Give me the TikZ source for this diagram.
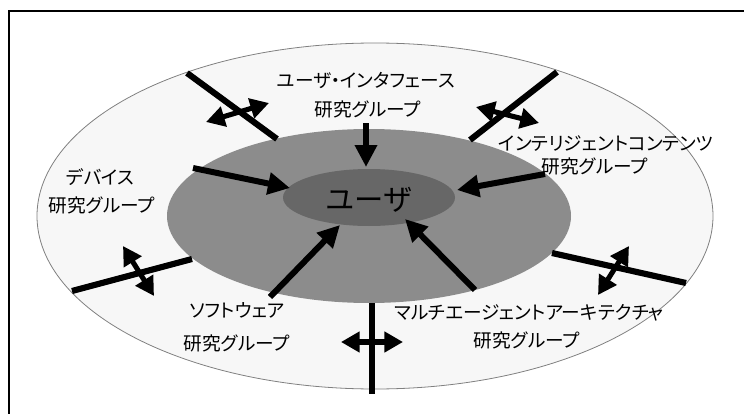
\documentclass[tikz,border=0pt]{standalone}
\usepackage{fontspec}
\setmainfont{Noto Sans CJK JP}[RawFeature=+palt]
\newfontfamily\bigjp{Noto Sans CJK JP}
\usetikzlibrary{arrows.meta}
\definecolor{outerfill}{HTML}{F7F7F7}
\definecolor{outerline}{HTML}{808080}
\definecolor{midfill}{HTML}{8C8C8C}
\definecolor{innerfill}{HTML}{676767}
\tikzset{
  inarrow/.style={line width=4.5pt, -{Triangle[length=16.5pt,width=16pt]}},
  twoway/.style={line width=3.8pt, {Triangle[length=14pt,width=15pt]}-{Triangle[length=14pt,width=15pt]}},
  boundary/.style={line width=4.6pt},
  lbl/.style={font=\fontsize{14pt}{16pt}\selectfont, inner sep=0pt},
}
\begin{document}
\begin{tikzpicture}[x=0.75pt,y=-0.75pt]
\useasboundingbox (0,0) rectangle (744,414);
% frame
\draw[line width=2pt] (9,414) -- (9,11) -- (744,11);
% ellipses
\draw[fill=outerfill, draw=outerline, line width=0.6pt] (375,216) ellipse [x radius=338, y radius=173];
\fill[midfill] (369,216) ellipse [x radius=202, y radius=87];
\fill[innerfill] (369,197.5) ellipse [x radius=86, y radius=28.5];
\node[font=\bigjp\fontsize{22pt}{24pt}\selectfont, inner sep=0pt] (user) at (369,200) {ユーザ};

% labels
\node[lbl] (ui1) at (366,80) {ユーザ・インタフェース};
\node[lbl] (ui2) at (368,109) {研究グループ};
\node[lbl] (ic1) at (606,144) {インテリジェントコンテンツ};
\node[lbl] (ic2) at (595,166) {研究グループ};
\node[lbl] (dv1) at (100,177) {デバイス};
\node[lbl] (dv2) at (102,205) {研究グループ};
\node[lbl] (sw1) at (237,310) {ソフトウェア};
\node[lbl] (sw2) at (237,343) {研究グループ};
\node[lbl] (ma1) at (529,313) {マルチエージェントアーキテクチャ};
\node[lbl] (ma2) at (527,340) {研究グループ};

% inward arrow endpoints
\coordinate (t1) at (366,123); \coordinate (h1) at (366,167);
\coordinate (t2) at (193,168); \coordinate (h2) at (290,188);
\coordinate (t3) at (545,174); \coordinate (h3) at (457,190);
\coordinate (t4) at (270,297); \coordinate (h4) at (340,225);
\coordinate (t5) at (475,290); \coordinate (h5) at (405,219);
\draw[inarrow] (t1) -- (h1);
\draw[inarrow] (t2) -- (h2);
\draw[inarrow] (t3) -- (h3);
\draw[inarrow] (t4) -- (h4);
\draw[inarrow] (t5) -- (h5);

% boundary lines
\coordinate (bA1) at (187,73);  \coordinate (bA2) at (277,139);
\coordinate (bB1) at (557,72);  \coordinate (bB2) at (470,140);
\coordinate (bC1) at (72,291);  \coordinate (bC2) at (192,259);
\coordinate (bD1) at (552,253); \coordinate (bD2) at (686,283);
\coordinate (bE1) at (372,303); \coordinate (bE2) at (372,394);
\draw[boundary] (bA1) -- (bA2);
\draw[boundary] (bB1) -- (bB2);
\draw[boundary] (bC1) -- (bC2);
\draw[boundary] (bD1) -- (bD2);
\draw[boundary] (bE1) -- (bE2);

% two-way arrows
\coordinate (dA1) at (206,122); \coordinate (dA2) at (269,103);
\coordinate (dB1) at (476,107); \coordinate (dB2) at (539,123);
\coordinate (dC1) at (123,246); \coordinate (dC2) at (154,296);
\coordinate (dD1) at (629,246); \coordinate (dD2) at (598,295);
\coordinate (dE1) at (341,342); \coordinate (dE2) at (403,342);
\draw[twoway] (dA1) -- (dA2);
\draw[twoway] (dB1) -- (dB2);
\draw[twoway] (dC1) -- (dC2);
\draw[twoway] (dD1) -- (dD2);
\draw[twoway] (dE1) -- (dE2);
\end{tikzpicture}
\end{document}
